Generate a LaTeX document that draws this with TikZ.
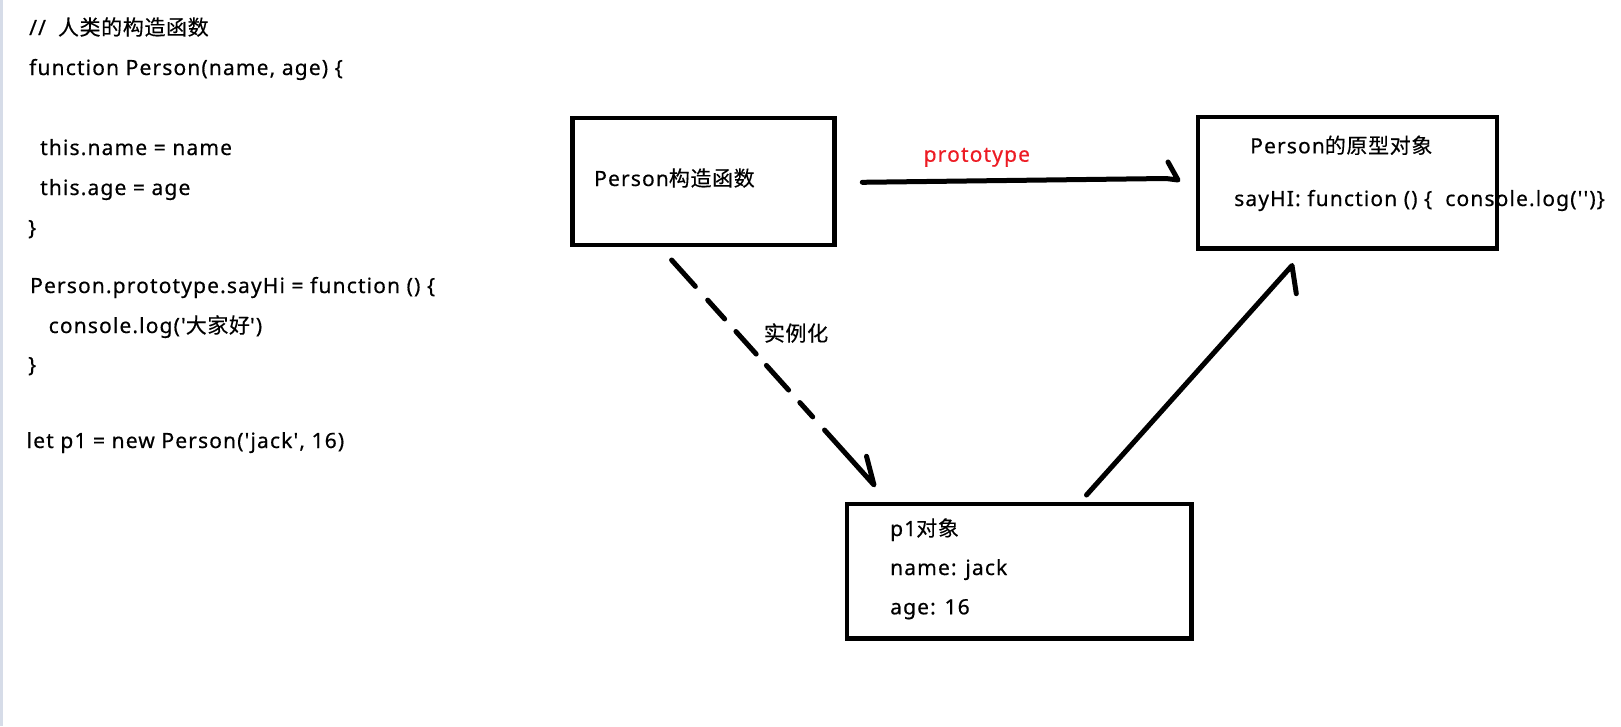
\documentclass[tikz,border=0pt]{standalone}
\usepackage{fontspec}
\newfontfamily\lat{Noto Sans}[LetterSpace=5.4, FakeBold=0.5]
\newfontfamily\cjk{Noto Sans CJK SC}[LetterSpace=3, FakeBold=0.3]
\newcommand\zh[1]{{\cjk #1}}
\definecolor{protored}{RGB}{237,28,36}
\definecolor{edgegray}{RGB}{214,220,232}
\tikzset{
  codeline/.style={anchor=base west, inner sep=0pt, font=\lat\fontsize{21}{25}\selectfont},
  boxframe/.style={draw, line width=4.7pt, inner sep=0pt},
  connline/.style={line width=5pt, line cap=round, line join=round},
}
\begin{document}
\begin{tikzpicture}[x=1pt,y=-1pt]
\fill[white] (0,0) rectangle (1621,726);
\useasboundingbox (0,0) rectangle (1621,726);
\fill[edgegray] (0,0) rectangle (2.7,726);

% code on the left
\node[codeline] (c1) at (29,35) {//\hspace{12pt}\zh{人类的构造函数}};
\node[codeline] (c2) at (29,75) {function Person(name, age) \{};
\node[codeline] (c3) at (40,155) {this.name = name};
\node[codeline] (c4) at (40,195) {this.age = age};
\node[codeline] (c5) at (28,235) {\}};
\node[codeline] (c6) at (30,293) {Person.prototype.sayHi = function () \{};
\node[codeline] (c7) at (48.5,333) {console.log('\zh{大家好}')};
\node[codeline] (c8) at (28,372) {\}};
\node[codeline] (c9) at (26.5,448) {let p1 = new Person('jack', 16)};

% boxes
\node[boxframe, minimum width=262.2pt, minimum height=127pt] (ctor) at (703.6,181.5) {};
\node[boxframe, minimum width=299pt, minimum height=131.3pt] (proto) at (1347.5,182.65) {};
\node[boxframe, minimum width=344.7pt, minimum height=134.3pt] (inst) at (1019.35,571.15) {};

\node[codeline] (ctortext) at (594,186) {Person\zh{构造函数}};
\node[codeline] (prototitle) at (1250,153.3) {Person\zh{的原型对象}};
\node[codeline] (protosay) at (1234,206) {sayHI: function () \{\ \ console.log('')\}};
\node[codeline] (insttitle) at (890,536) {p1\zh{对象}};
\node[codeline] (instname) at (890,575) {name: jack};
\node[codeline] (instage) at (890,614.3) {age: 16};

% labels
\node[codeline, text=protored] (protolabel) at (923.5,161.7) {prototype};
\node[inner sep=0pt, font=\cjk\fontsize{21}{25}\selectfont] (newlabel) at (796,333) {实例化};

% prototype arrow
\coordinate (pt) at (862.3,182.3);
\coordinate (pm) at (1166,178.5);
\coordinate (ph) at (1178,180);
\coordinate (pb) at (1168,162);
\draw[connline] (pt) -- (pm) -- (ph) -- (pb);

% instantiation arrow (dashed)
\coordinate (it) at (671.6,260);
\coordinate (ih) at (874,485);
\coordinate (ib) at (866.5,456.3);
\draw[connline, dash pattern=on 35.5 off 18.5 on 25.3 off 16.9 on 30.3 off 15.3 on 33.1 off 16.8 on 19.3 off 17.7 on 400 off 10]
  (it) -- (ih) -- (ib);

% instance -> prototype arrow
\coordinate (ot) at (1086.5,495);
\coordinate (oh) at (1292,265.5);
\coordinate (ob) at (1296.3,293.7);
\draw[connline] (ot) -- (oh) -- (ob);
\end{tikzpicture}
\end{document}
